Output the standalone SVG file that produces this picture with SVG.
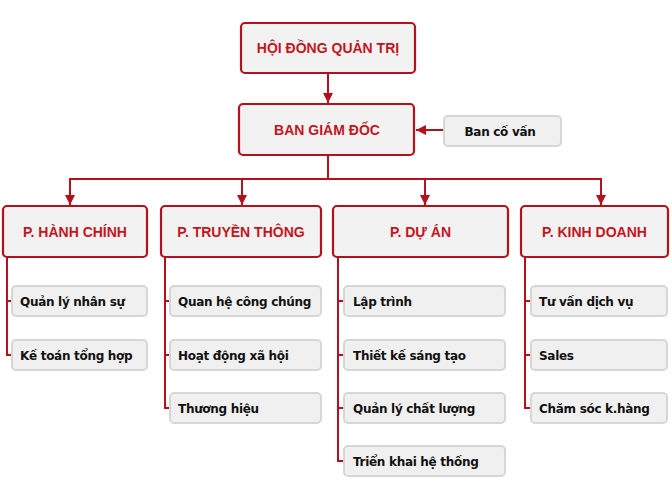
<svg xmlns="http://www.w3.org/2000/svg" width="672" height="500" viewBox="0 0 672 500">
<style>
.main rect{fill:#f2f2f2;stroke:#b3121c;stroke-width:2.2}
.main text{font-family:"Liberation Sans",Arial,sans-serif;font-weight:bold;font-size:14px;fill:#c4161e;text-anchor:middle}
.sub rect{fill:#f0f0f0;stroke:#d6d6d6;stroke-width:2}
.sub text{font-family:"DejaVu Sans",sans-serif;font-weight:bold;font-size:12px;letter-spacing:-0.3px;fill:#111}
.ln{fill:none;stroke:#b3121c;stroke-width:2}
</style>
<defs>
<marker id="ah" viewBox="0 0 10 10" refX="10" refY="5" markerWidth="5" markerHeight="5" orient="auto" markerUnits="strokeWidth">
<path d="M0,0 L10,5 L0,10 Z" fill="#b3121c"/>
</marker>
</defs>
<rect width="672" height="500" fill="#fff"/>
<g id="connectors">
<path class="ln" d="M328,73 V103" marker-end="url(#ah)"/>
<path class="ln" d="M444,130 H416" marker-end="url(#ah)"/>
<path class="ln" d="M328,155 V179 M70,179 H601"/>
<path class="ln" d="M70,178 V205" marker-end="url(#ah)"/>
<path class="ln" d="M242,178 V205" marker-end="url(#ah)"/>
<path class="ln" d="M425,178 V205" marker-end="url(#ah)"/>
<path class="ln" d="M601,178 V205" marker-end="url(#ah)"/>
<path class="ln" d="M7,257 V355 H12 M7,301 H12"/>
<path class="ln" d="M165,257 V408 H170 M165,301 H170 M165,355 H170"/>
<path class="ln" d="M338,257 V461 H344 M338,301 H344 M338,355 H344 M338,408 H344"/>
<path class="ln" d="M525,257 V408 H531 M525,301 H531 M525,355 H531"/>
</g>
<g id="hdqt" class="main"><rect x="241" y="23" width="174" height="50" rx="4"/><text x="328" y="53">HỘI ĐỒNG QUẢN TRỊ</text></g>
<g id="bgd" class="main"><rect x="239" y="104" width="175" height="51" rx="4"/><text x="327" y="135">BAN GIÁM ĐỐC</text></g>
<g id="bancovan" class="sub"><rect x="444" y="116" width="117" height="30" rx="4"/><text x="500" y="136" text-anchor="middle">Ban cố vấn</text></g>
<g id="hanhchinh" class="main"><rect x="3" y="206" width="144" height="51" rx="4"/><text x="75" y="237">P. HÀNH CHÍNH</text></g>
<g id="truyenthong" class="main"><rect x="161" y="206" width="160" height="51" rx="4"/><text x="241" y="237">P. TRUYỀN THÔNG</text></g>
<g id="duan" class="main"><rect x="333" y="206" width="175" height="51" rx="4"/><text x="420.5" y="237">P. DỰ ÁN</text></g>
<g id="kinhdoanh" class="main"><rect x="521" y="206" width="147" height="51" rx="4"/><text x="594.5" y="237">P. KINH DOANH</text></g>
<g id="qlns" class="sub"><rect x="12" y="286" width="135" height="30" rx="4"/><text x="20" y="306">Quản lý nhân sự</text></g>
<g id="ktth" class="sub"><rect x="12" y="340" width="135" height="30" rx="4"/><text x="20" y="360">Kế toán tổng hợp</text></g>
<g id="qhcc" class="sub"><rect x="170" y="286" width="151" height="30" rx="4"/><text x="178" y="306">Quan hệ công chúng</text></g>
<g id="hdxh" class="sub"><rect x="170" y="340" width="151" height="30" rx="4"/><text x="178" y="360">Hoạt động xã hội</text></g>
<g id="th" class="sub"><rect x="170" y="393" width="151" height="30" rx="4"/><text x="178" y="413">Thương hiệu</text></g>
<g id="lt" class="sub"><rect x="344" y="286" width="161" height="30" rx="4"/><text x="353" y="306">Lập trình</text></g>
<g id="tkst" class="sub"><rect x="344" y="340" width="161" height="30" rx="4"/><text x="353" y="360">Thiết kế sáng tạo</text></g>
<g id="qlcl" class="sub"><rect x="344" y="393" width="161" height="30" rx="4"/><text x="353" y="413">Quản lý chất lượng</text></g>
<g id="tkht" class="sub"><rect x="344" y="446" width="161" height="30" rx="4"/><text x="353" y="466">Triển khai hệ thống</text></g>
<g id="tvdv" class="sub"><rect x="531" y="286" width="136" height="30" rx="4"/><text x="539" y="306">Tư vấn dịch vụ</text></g>
<g id="sales" class="sub"><rect x="531" y="340" width="136" height="30" rx="4"/><text x="539" y="360">Sales</text></g>
<g id="csk" class="sub"><rect x="531" y="393" width="136" height="30" rx="4"/><text x="539" y="413">Chăm sóc k.hàng</text></g>
</svg>
